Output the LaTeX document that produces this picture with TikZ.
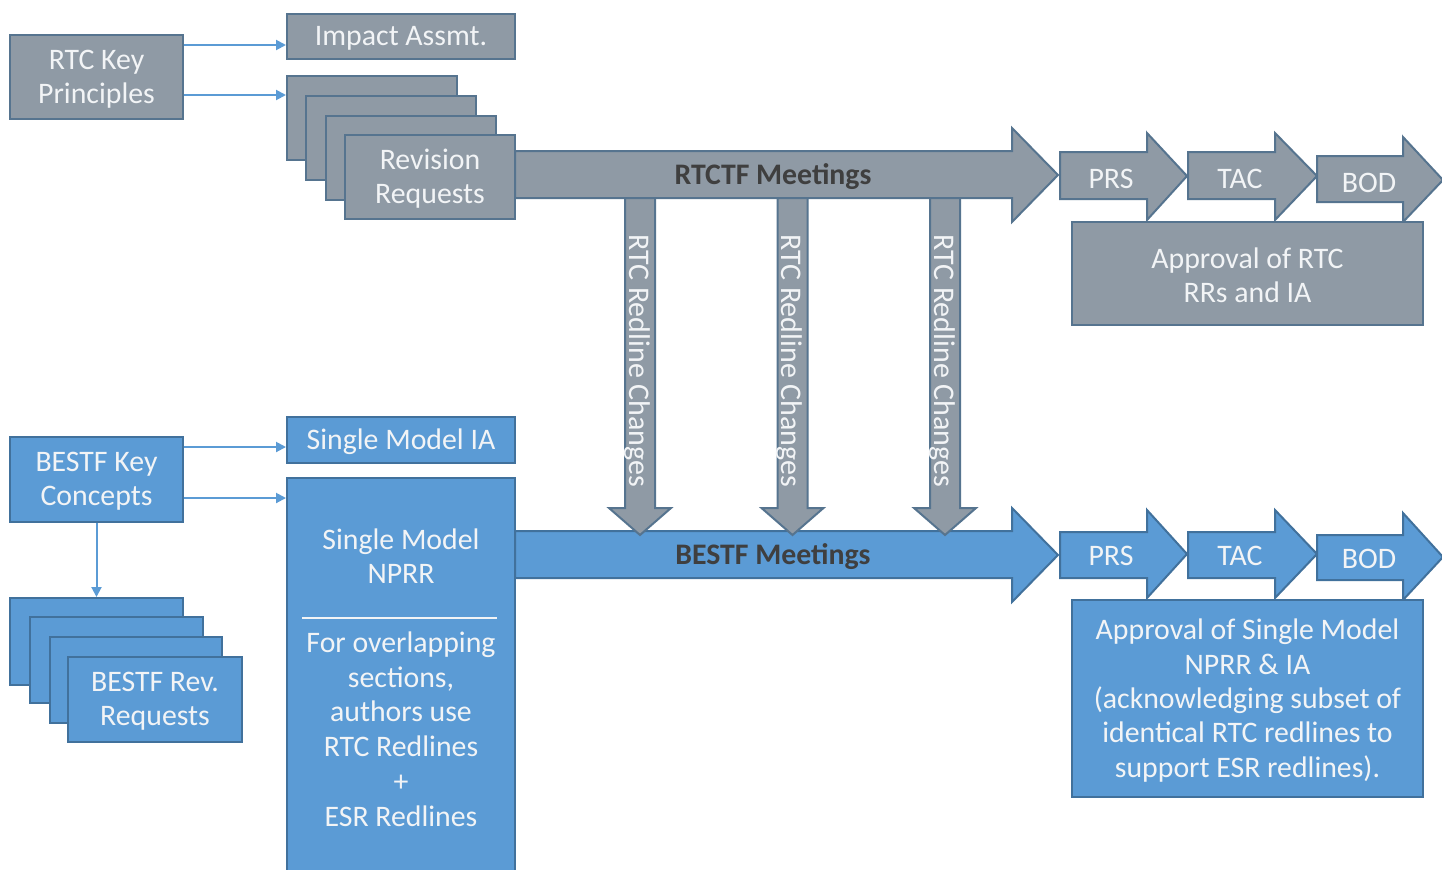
\documentclass[tikz,border=0pt]{standalone}
\usepackage{fontspec}
\setmainfont{Carlito}
\usetikzlibrary{arrows.meta}
\definecolor{gfill}{HTML}{8F9AA5}
\definecolor{gedge}{HTML}{56748F}
\definecolor{bfill}{HTML}{5B9BD5}
\definecolor{bedge}{HTML}{41719C}
\definecolor{ltxt}{HTML}{F2F4F6}
\definecolor{dtxt}{HTML}{3F3F3F}
\tikzset{
  gbox/.style={draw=gedge, fill=gfill, line width=1pt, inner sep=0pt},
  bbox/.style={draw=bedge, fill=bfill, line width=1pt, inner sep=0pt},
  garrow/.style={draw=gedge, fill=gfill, line width=1pt, line join=miter},
  barrow/.style={draw=bedge, fill=bfill, line width=1pt, line join=miter},
  txt/.style={text=ltxt, font=\fontsize{14.9}{17.2}\selectfont, align=center, inner sep=0pt, yshift=-1pt},
  vtxt/.style={text=ltxt, font=\fontsize{15}{17}\selectfont, inner sep=0pt, rotate=-90, anchor=west},
  mtxt/.style={text=dtxt, font=\fontsize{14.9}{17}\selectfont\bfseries, inner sep=0pt, yshift=-1pt},
  conn/.style={draw=bfill, line width=1pt, -{Triangle[length=5pt,width=5pt]}},
}
\begin{document}
\begin{tikzpicture}[x=0.5pt,y=-0.5pt]
\useasboundingbox (0,0) rectangle (1442,869);
\fill[white] (0,0) rectangle (1442,869);
\clip (0,0) rectangle (1442,869);

% ---- BESTF meetings arrow
\path[barrow] (515,531) -- (1012,531) -- (1012,508) -- (1058,555) -- (1012,602) -- (1012,578) -- (515,578) -- cycle;
\node[mtxt] (bmeet) at (773,555) {BESTF Meetings};

% ---- vertical redline arrows
\foreach \cx/\nm in {640/va, 792.5/vb, 945/vc}{
  \path[garrow] (\cx-15,196) -- (\cx+15,196) -- (\cx+15,508) -- (\cx+31,508) -- (\cx,535) -- (\cx-31,508) -- (\cx-15,508) -- cycle;
  \node[vtxt] (\nm) at (\cx-3,234) {RTC Redline Changes};
}

% ---- RTCTF meetings arrow
\path[garrow] (515,151) -- (1012,151) -- (1012,128) -- (1058,175) -- (1012,222) -- (1012,198) -- (515,198) -- cycle;
\node[mtxt] (rmeet) at (773,175) {RTCTF Meetings};

% ---- top PRS / TAC / BOD
\path[garrow] (1060,152) -- (1147,152) -- (1147,133) -- (1187,176) -- (1147,220) -- (1147,199) -- (1060,199) -- cycle;
\path[garrow] (1188,152) -- (1275,152) -- (1275,133) -- (1317,176) -- (1275,220) -- (1275,199) -- (1188,199) -- cycle;
\path[garrow] (1317,156) -- (1403,156) -- (1403,137) -- (1443,180) -- (1403,222) -- (1403,202) -- (1317,202) -- cycle;
\node[txt] (prs1) at (1111,177) {PRS};
\node[txt] (tac1) at (1240,177) {TAC};
\node[txt] (bod1) at (1369,181) {BOD};

% ---- bottom PRS / TAC / BOD
\path[barrow] (1060,532) -- (1147,532) -- (1147,510) -- (1187,554) -- (1147,598) -- (1147,578) -- (1060,578) -- cycle;
\path[barrow] (1188,532) -- (1275,532) -- (1275,510) -- (1317,554) -- (1275,598) -- (1275,578) -- (1188,578) -- cycle;
\path[barrow] (1317,535) -- (1403,535) -- (1403,513) -- (1443,557) -- (1403,600) -- (1403,580) -- (1317,580) -- cycle;
\node[txt] (prs2) at (1111,554) {PRS};
\node[txt] (tac2) at (1240,554) {TAC};
\node[txt] (bod2) at (1369,557) {BOD};

% ---- approval boxes
\node[gbox, minimum width=175.5pt, minimum height=51.5pt] (app1) at (1247.5,273.5) {};
\node[txt] at (app1) {Approval of RTC\\RRs and IA};
\node[bbox, minimum width=175.5pt, minimum height=98.5pt] (app2) at (1247.5,698.5) {};
\node[txt] at (app2) {Approval of Single Model\\NPRR \& IA\\(acknowledging subset of\\identical RTC redlines to\\support ESR redlines).};

% ---- RTC left side
\node[gbox, minimum width=86.5pt, minimum height=42pt] (rtckey) at (96.5,77) {};
\node[txt] at (rtckey) {RTC Key\\Principles};
\node[gbox, minimum width=114pt, minimum height=22.5pt] (imp) at (401,36.5) {};
\node[txt] at (imp) {Impact Assmt.};
\node[gbox, minimum width=85pt, minimum height=42pt] (rr1) at (372,118) {};
\node[gbox, minimum width=85pt, minimum height=42pt] (rr2) at (391,137.5) {};
\node[gbox, minimum width=85pt, minimum height=42pt] (rr3) at (411,157.5) {};
\node[gbox, minimum width=85pt, minimum height=42pt] (rr4) at (430,176.5) {};
\node[txt] at (rr4) {Revision\\Requests};
\draw[conn] (rtckey.east |- 0,45) -- (imp.west |- 0,45);
\draw[conn] (rtckey.east |- 0,95) -- (rr1.west |- 0,95);

% ---- BESTF left side
\node[bbox, minimum width=86.5pt, minimum height=42.5pt] (bkey) at (96.5,479.5) {};
\node[txt] at (bkey) {BESTF Key\\Concepts};
\node[bbox, minimum width=114pt, minimum height=23pt] (smia) at (401,440) {};
\node[txt] at (smia) {Single Model IA};
\node[bbox, minimum width=114pt, minimum height=201pt] (nprr) at (401,679) {};
\node[txt] (nprrt) at (401,554) {Single Model\\NPRR};
\draw[draw=ltxt, line width=0.8pt] (302,618) -- (497,618);
\node[txt, font=\fontsize{14.9}{17.4}\selectfont] (nprrb) at (401,727) {For overlapping\\sections,\\authors use\\RTC Redlines\\+\\ESR Redlines};
\node[bbox, minimum width=86.5pt, minimum height=43.5pt] (br1) at (96.5,641.5) {};
\node[bbox, minimum width=86.5pt, minimum height=43pt] (br2) at (116.5,660) {};
\node[bbox, minimum width=86pt, minimum height=43pt] (br3) at (136,680) {};
\node[bbox, minimum width=87pt, minimum height=42.5pt] (br4) at (155,699.5) {};
\node[txt] at (br4) {BESTF Rev.\\Requests};
\draw[conn] (bkey.east |- 0,447) -- (smia.west |- 0,447);
\draw[conn] (bkey.east |- 0,498) -- (nprr.west |- 0,498);
\draw[conn] (bkey.south) -- (br1.north);
\end{tikzpicture}
\end{document}
